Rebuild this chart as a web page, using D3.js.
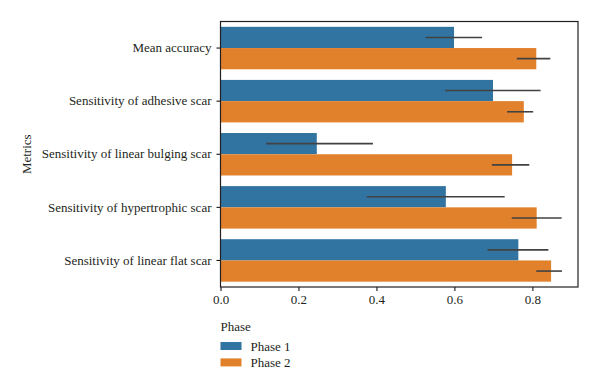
<!DOCTYPE html>
<html>
<head>
<meta charset="utf-8">
<script src="https://cdn.jsdelivr.net/npm/d3@7"></script>
<style>
  body { margin: 0; background: #fff; }
  text { font-family: "Liberation Serif", "DejaVu Serif", serif; fill: #231f20; }
</style>
</head>
<body>
<svg id="chart" width="600" height="388"></svg>
<script>
// metrics, top to bottom
const metrics = [
  "Mean accuracy",
  "Sensitivity of adhesive scar",
  "Sensitivity of linear bulging scar",
  "Sensitivity of hypertrophic scar",
  "Sensitivity of linear flat scar"
];
const phases = ["Phase 1", "Phase 2"];

const phase1 = [0.599, 0.699, 0.247, 0.578, 0.764];
const phase1Lo = [0.526, 0.576, 0.117, 0.375, 0.685];
const phase1Hi = [0.671, 0.821, 0.391, 0.729, 0.841];

const phase2 = [0.810, 0.778, 0.748, 0.811, 0.848];
const phase2Lo = [0.760, 0.735, 0.696, 0.747, 0.810];
const phase2Hi = [0.846, 0.802, 0.792, 0.875, 0.876];

const xTicks = [0, 0.2, 0.4, 0.6, 0.8];
const colors = ["#3274a1", "#e1812c"];

const rows = [];
metrics.forEach((m, i) => {
  rows.push({ metric: m, phase: phases[0], value: phase1[i], lo: phase1Lo[i], hi: phase1Hi[i] });
  rows.push({ metric: m, phase: phases[1], value: phase2[i], lo: phase2Lo[i], hi: phase2Hi[i] });
});

const margin = { top: 21.5, right: 22, bottom: 101, left: 220.5 };
const width = 600 - margin.left - margin.right;
const height = 388 - margin.top - margin.bottom;

const svg = d3.select("#chart");
const g = svg.append("g").attr("transform", `translate(${margin.left},${margin.top})`);

const x = d3.scaleLinear().domain([0, 0.917]).range([0, width]);
const y = d3.scaleBand().domain(metrics).range([0, height]).paddingInner(0.2).paddingOuter(0.1);
const sub = d3.scaleBand().domain(phases).range([0, y.bandwidth()]);
const color = d3.scaleOrdinal().domain(phases).range(colors);

// bars
g.selectAll(".bar")
  .data(rows)
  .enter()
  .append("rect")
  .classed("bar", true)
  .attr("x", x(0))
  .attr("y", d => y(d.metric) + sub(d.phase))
  .attr("width", d => x(d.value) - x(0))
  .attr("height", sub.bandwidth())
  .attr("fill", d => color(d.phase));

// error bars
g.selectAll(".err")
  .data(rows)
  .enter()
  .append("line")
  .classed("err", true)
  .attr("x1", d => x(d.lo))
  .attr("x2", d => x(d.hi))
  .attr("y1", d => y(d.metric) + sub(d.phase) + sub.bandwidth() / 2)
  .attr("y2", d => y(d.metric) + sub(d.phase) + sub.bandwidth() / 2)
  .attr("stroke", "#424242")
  .attr("stroke-width", 1.6);

// axes
const xAxis = g.append("g")
  .attr("transform", `translate(0,${height})`)
  .call(d3.axisBottom(x).tickValues(xTicks).tickFormat(d3.format(".1f")).tickSize(4).tickPadding(4));
xAxis.select(".domain").remove();
xAxis.selectAll("text").attr("font-size", 13).attr("fill", "#231f20");

const yAxis = g.append("g")
  .call(d3.axisLeft(y).tickSize(4).tickPadding(5));
yAxis.select(".domain").remove();
yAxis.selectAll("text").attr("font-size", 13).attr("fill", "#231f20");

// frame
g.append("rect")
  .attr("width", width)
  .attr("height", height)
  .attr("fill", "none")
  .attr("stroke", "#231f20")
  .attr("stroke-width", 1.2);

// y title
svg.append("text")
  .attr("transform", `translate(31,${margin.top + height / 2}) rotate(-90)`)
  .attr("text-anchor", "middle")
  .attr("font-size", 13)
  .text("Metrics");

// legend
const leg = svg.append("g").attr("transform", `translate(${margin.left},0)`);
leg.append("text").attr("x", 0).attr("y", 331).attr("font-size", 13).text("Phase");
const items = leg.selectAll(".item")
  .data(phases)
  .enter()
  .append("g")
  .attr("transform", (d, i) => `translate(0,${342 + i * 16.4})`);
items.append("rect")
  .attr("width", 21)
  .attr("height", 8)
  .attr("fill", d => color(d));
items.append("text")
  .attr("x", 30)
  .attr("y", 4)
  .attr("dy", "0.35em")
  .attr("font-size", 13)
  .text(d => d);
</script>
</body>
</html>
